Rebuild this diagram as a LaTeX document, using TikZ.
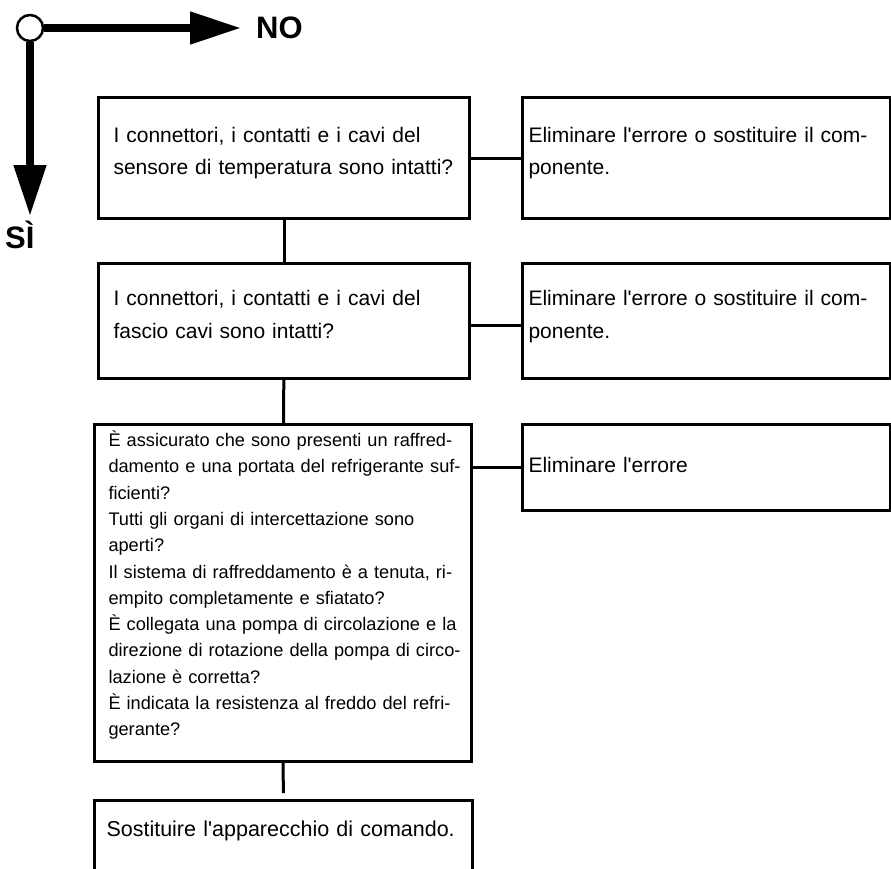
\documentclass[tikz,border=0pt]{standalone}
\usepackage{fontspec}
\setmainfont{Liberation Sans}[Ligatures=TeXOff]
\usetikzlibrary{arrows.meta}
\tikzset{
	box/.style={draw, line width=3pt, anchor=north west, align=left, inner ysep=0pt},
	link/.style={line width=3pt},
	bigarrow/.style={line width=8pt, -{Triangle[length=51pt,width=31pt]}},
	lbl/.style={font=\fontsize{31}{36}\selectfont\bfseries},
	big/.style={font=\fontsize{21}{32.4}\selectfont},
	indent/.style={execute at begin node={\leftskip=#1}},
}
\begin{document}
\begin{tikzpicture}[x=1pt,y=-1pt]
			\useasboundingbox (0,0) rectangle (891,868);
			% legend
			\node[lbl, anchor=west, inner xsep=15pt] at (241,28) (no) {NO};
			\node[lbl, anchor=north west, inner xsep=0pt, inner ysep=5pt] at (5,216) (si) {SÌ};
			\node[circle, draw, fill=white, line width=2.5pt, minimum size=26pt, inner sep=0pt] at (30,28) (o) {};
			\draw[bigarrow] (o) -- (no);
			\draw[bigarrow] (o) -- (o |- si.north);
			%
			\node[box, big, inner xsep=15pt, text width=341pt, text height=45pt, text depth=76pt] at (97,96) (q1)
				{I connettori, i contatti e i cavi del\\sensore di temperatura sono intatti?};
			\node[box, big, inner xsep=6pt, text width=356pt, text height=45pt, text depth=76pt] at (521,96) (r1)
				{Eliminare l'errore o sostituire il com-\\ponente.};
			\node[box, big, inner xsep=15pt, text width=341pt, text height=42.6pt, text depth=72.4pt] at (97,261.7) (q2)
				{I connettori, i contatti e i cavi del\\fascio cavi sono intatti?};
			\node[box, big, inner xsep=6pt, text width=356pt, text height=42.6pt, text depth=72.4pt] at (521,261.7) (r2)
				{Eliminare l'errore o sostituire il com-\\ponente.};
			\node[box, font=\fontsize{18.2}{26.3}\selectfont, inner xsep=7pt, text width=363pt, indent=7pt, text height=22pt, text depth=315pt] at (93,423) (q3)
				{È assicurato che sono presenti un raffred-\\
				damento e una portata del refrigerante suf-\\
				ficienti?\\
				Tutti gli organi di intercettazione sono\\
				aperti?\\
				Il sistema di raffreddamento è a tenuta, ri-\\
				empito completamente e sfiatato?\\
				È collegata una pompa di circolazione e la\\
				direzione di rotazione della pompa di circo-\\
				lazione è corretta?\\
				È indicata la resistenza al freddo del refri-\\
				gerante?};
			\node[box, big, inner xsep=6pt, text width=356pt, text height=48pt, text depth=38pt] at (521,423) (r3)
				{Eliminare l'errore};
			\node[box, font=\fontsize{21.5}{30}\selectfont, inner xsep=7pt, text width=364pt, indent=5pt, text height=36pt, text depth=70pt] at (93,799) (q4)
				{Sostituire l'apparecchio di comando.};
			%
			\draw[link] (q1) -- (r1);
			\draw[link] ([yshift=-5pt]q2.east) -- ([yshift=-5pt]r2.west);
			\draw[link] (q3.east |- r3.west) -- (r3.west);
			\draw[link] (q1) -- (q2);
			\draw[link] (q2) -- (q3);
			\draw[link, shorten >=6pt] (q3.south) -- (q4.north);
\end{tikzpicture}
\end{document}
